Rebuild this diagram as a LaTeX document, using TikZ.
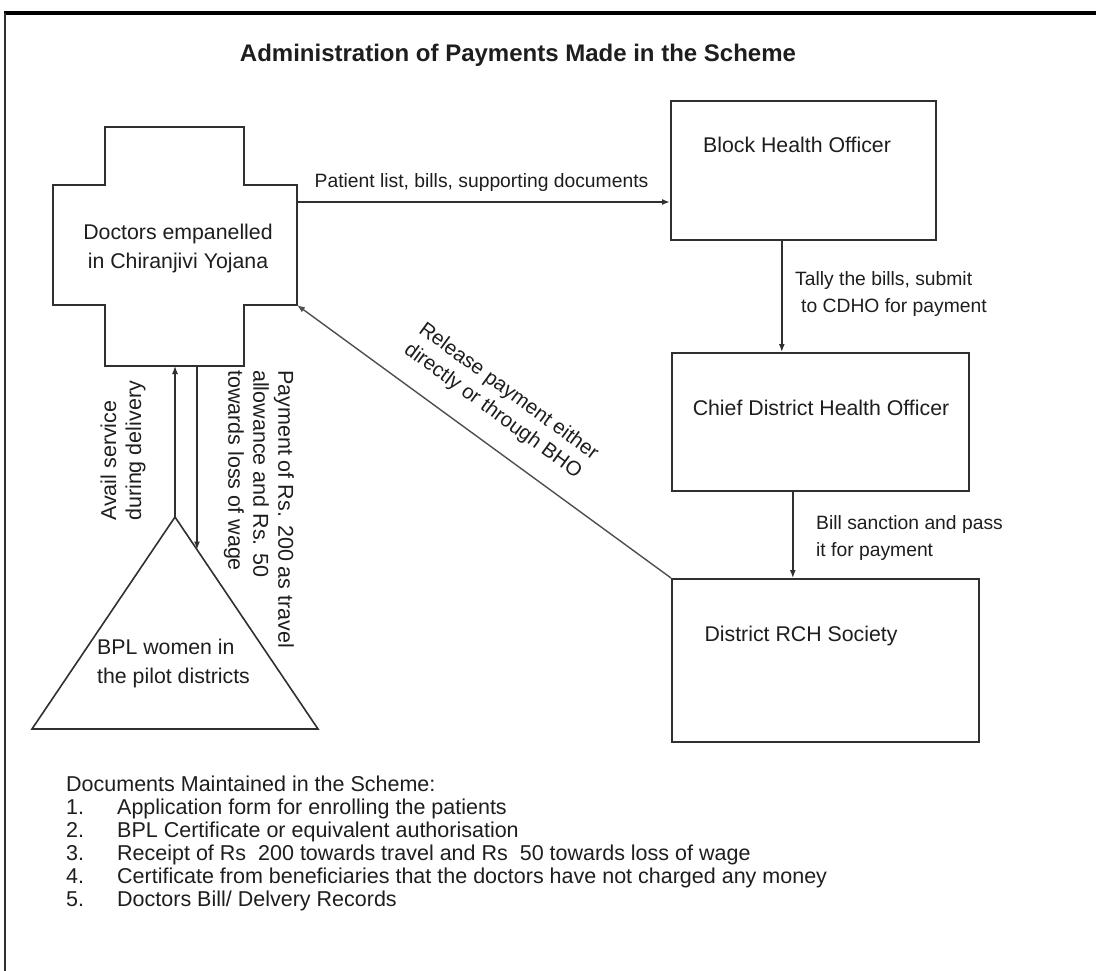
\documentclass[tikz,border=0pt]{standalone}
\usepackage{fontspec}
\setmainfont{Liberation Sans}
\usetikzlibrary{arrows.meta}
\definecolor{linec}{HTML}{303030}
\definecolor{txt}{HTML}{1E1E1E}
\begin{document}
\begin{tikzpicture}[x=1pt,y=-1pt,
  box/.style={draw=linec,line width=1.6pt,inner sep=0pt,anchor=north west},
  lbl/.style={font=\fontsize{21.3}{29}\selectfont,text=txt,inner sep=0pt},
  elbl/.style={font=\fontsize{19.3}{27}\selectfont,text=txt,inner sep=0pt,align=left},
  rlbl/.style={font=\fontsize{21.5}{25}\selectfont,text=txt,inner sep=0pt,align=left},
  lst/.style={font=\fontsize{21.5}{24}\selectfont,text=txt,inner sep=0pt,anchor=base west},
  conn/.style={draw=linec,line width=1.4pt,-{Latex[length=8pt,width=6pt]}},
]
\useasboundingbox (0,0) rectangle (1096,971);
\fill[white] (0,0) rectangle (1096,971);
% frame
\draw[line width=3.5pt,black] (4,13) coordinate (ftl) -- (1096,13) coordinate (ftr);
\draw[line width=1.5pt,linec] (5,13) coordinate (fl1) -- (5,971) coordinate (fl2);

% title
\node[font=\bfseries\fontsize{24}{28}\selectfont,text=txt,inner sep=0pt] (title) at (518,55)
  {Administration of Payments Made in the Scheme};

% cross (doctors)
\draw[linec,line width=1.6pt]
  (105,127) -- (244,127) -- (244,185) -- (297,185) -- (297,305) -- (244,305)
  -- (244,366) -- (105,366) -- (105,305) -- (53,305) -- (53,185) -- (105,185) -- cycle;
\coordinate (crE) at (297,202);
\coordinate (crBR) at (297,305);
\coordinate (crBup) at (175,366);
\coordinate (crBdn) at (197,366);
\node[lbl,align=center] (doc) at (178,248.5) {Doctors empanelled\\in Chiranjivi Yojana};

% triangle (BPL women)
\coordinate (apex) at (175,517);
\coordinate (triL) at (32,729);
\coordinate (triR) at (318,729);
\coordinate (triRside) at (197,549.6);
\draw[linec,line width=1.6pt] (apex) -- (triR) -- (triL) -- cycle;
\node[lbl,align=left,anchor=north west] (bpl) at (97,639) {BPL women in\\the pilot districts};

% boxes
\node[box,minimum width=265pt,minimum height=139pt] (bho) at (670,100) {};
\node[lbl,anchor=center] (bhot) at (797,145) {Block Health Officer};
\node[box,minimum width=297pt,minimum height=138pt] (cdho) at (671,352) {};
\node[lbl,anchor=center] (cdhot) at (821,408) {Chief District Health Officer};
\node[box,minimum width=307pt,minimum height=163pt] (drch) at (671,578) {};
\node[lbl,anchor=center] (drcht) at (801,636) {District RCH Society};

% connectors
\draw[conn,line width=1.6pt] (crE) -- (crE -| bho.west)
  node[midway,above=10pt,elbl,xshift=-2pt] (l1) {Patient list, bills, supporting documents};
\draw[conn] ([xshift=-21.5pt]bho.south) -- ([xshift=-21.5pt]bho.south |- cdho.north);
\node[elbl,anchor=north west] (l2) at (795,271) {Tally the bills, submit\\\hspace*{6pt}to CDHO for payment};
\draw[conn] ([xshift=-27.5pt]cdho.south) -- ([xshift=-27.5pt]cdho.south |- drch.north);
\node[elbl,anchor=north west] (l3) at (816,515) {Bill sanction and pass\\it for payment};
\draw[conn,draw=linec!85] (drch.north west) -- (crBR);
\node[font=\fontsize{20.5}{25}\selectfont,text=txt,inner sep=0pt,align=left,rotate=-36.2] (l4)
  at (501,402) {Release payment either\\directly or through BHO};
\draw[conn,line width=1.3pt] (apex) -- (crBup);
\draw[conn,line width=2pt] (crBdn) -- (triRside);
\node[rlbl,rotate=90,anchor=west] (l5) at (123,521) {Avail service\\during delivery};
\node[rlbl,rotate=-90,anchor=west] (l6) at (259,370)
  {Payment of Rs. 200 as travel\\allowance and Rs. 50\\towards loss of wage};

% documents list
\node[lst] (dh) at (66,791) {Documents Maintained in the Scheme:};
\node[lst] (n1) at (66,814) {1.};
\node[lst] (t1) at (117,814) {Application form for enrolling the patients};
\node[lst] (n2) at (66,837) {2.};
\node[lst] (t2) at (117,837) {BPL Certificate or equivalent authorisation};
\node[lst] (n3) at (66,860) {3.};
\node[lst] (t3) at (117,860) {Receipt of Rs\ \ 200 towards travel and Rs\ \ 50 towards loss of wage};
\node[lst] (n4) at (66,883) {4.};
\node[lst] (t4) at (117,883) {Certificate from beneficiaries that the doctors have not charged any money};
\node[lst] (n5) at (66,906) {5.};
\node[lst] (t5) at (117,906) {Doctors Bill/ Delvery Records};
\end{tikzpicture}
\end{document}
